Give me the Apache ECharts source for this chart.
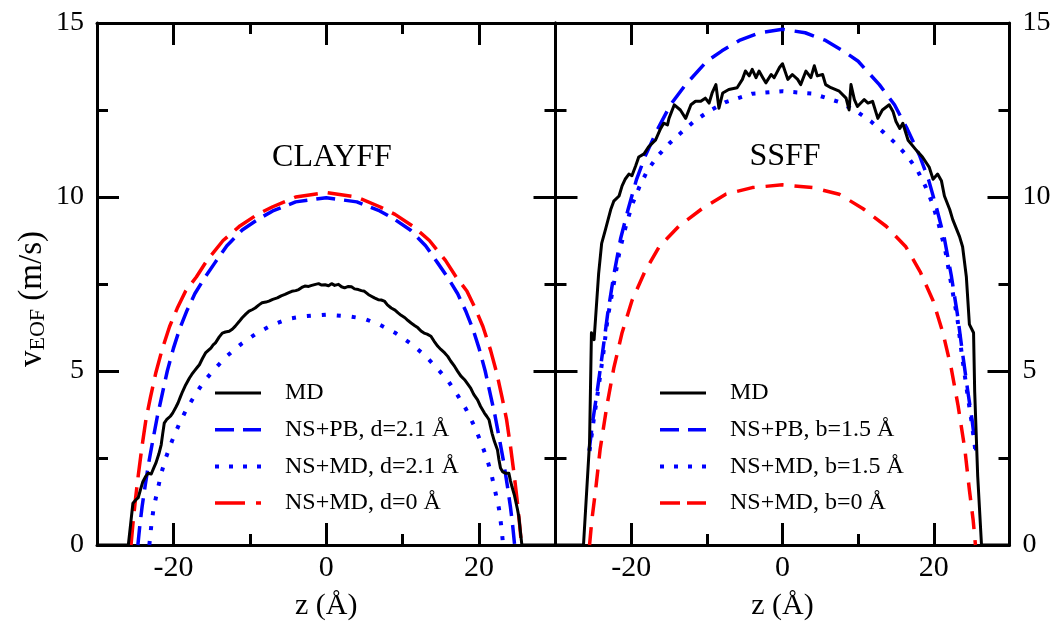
<!DOCTYPE html>
<html>
<head>
<meta charset="utf-8">
<script src="https://cdn.jsdelivr.net/npm/echarts@6/dist/echarts.min.js"></script>
</head>
<body style="margin:0">
<div id="chart" style="width:1054px;height:623px"></div>
<script>
// ---------- data (z in Å, v in m/s) ----------
var xMajorTicks = [-20, 0, 20];
var xMinorTicks = [-10, 10];

// CLAYFF panel
var clayffMD = [[-30,0],[-25.9,0],[-25.6,0.6],[-25.3,1.2],[-24.9,1.3],[-24.6,1.36],[-24.3,1.6],[-24.0,1.82],[-23.6,1.98],[-23.3,2.06],[-22.9,2.04],[-22.6,2.2],[-22.3,2.35],[-21.9,2.62],[-21.6,2.88],[-21.4,3.2],[-21.2,3.5],[-20.9,3.6],[-20.7,3.65],[-20.4,3.7],[-20.1,3.79],[-19.7,3.95],[-19.4,4.08],[-19.1,4.25],[-18.8,4.41],[-18.4,4.6],[-17.9,4.8],[-17.6,4.9],[-17.3,4.99],[-16.9,5.1],[-16.6,5.18],[-16.2,5.36],[-15.8,5.52],[-15.4,5.6],[-15.1,5.66],[-14.8,5.75],[-14.5,5.81],[-14.0,5.98],[-13.6,6.09],[-13.2,6.12],[-12.7,6.14],[-12.3,6.2],[-11.9,6.29],[-11.4,6.42],[-11.0,6.53],[-10.5,6.64],[-10.1,6.72],[-9.7,6.76],[-9.3,6.81],[-8.8,6.9],[-8.4,6.96],[-7.9,6.98],[-7.5,7.01],[-7.0,7.06],[-6.4,7.1],[-5.9,7.16],[-5.4,7.2],[-4.9,7.25],[-4.5,7.29],[-4.0,7.31],[-3.6,7.34],[-3.2,7.4],[-2.8,7.44],[-2.3,7.43],[-1.9,7.46],[-1.4,7.49],[-1.0,7.51],[-0.6,7.47],[-0.15,7.48],[0.3,7.45],[0.7,7.51],[1.1,7.46],[1.6,7.49],[2.0,7.42],[2.4,7.39],[2.9,7.43],[3.3,7.42],[3.7,7.36],[4.2,7.34],[4.6,7.31],[5.0,7.29],[5.5,7.2],[5.9,7.15],[6.3,7.1],[6.8,7.05],[7.2,7.04],[7.6,7.01],[8.0,6.9],[8.5,6.81],[9.0,6.75],[9.4,6.67],[9.8,6.6],[10.3,6.53],[10.7,6.45],[11.1,6.38],[11.6,6.3],[12.0,6.24],[12.4,6.15],[12.8,6.09],[13.2,6.06],[13.7,6.0],[14.1,5.86],[14.6,5.71],[15.0,5.62],[15.5,5.52],[15.9,5.42],[16.3,5.28],[16.8,5.13],[17.2,4.99],[17.6,4.86],[18.1,4.75],[18.5,4.63],[18.9,4.51],[19.3,4.33],[19.8,4.17],[20.2,3.98],[20.7,3.79],[21.0,3.7],[21.3,3.6],[21.5,3.4],[21.7,3.21],[22.0,2.98],[22.4,2.74],[22.6,2.45],[22.8,2.21],[23.1,2.1],[23.5,2.06],[23.9,2.06],[24.1,1.85],[24.3,1.68],[24.6,1.45],[24.8,1.25],[25.0,1.05],[25.2,0.82],[25.4,0.4],[25.6,0],[30,0]];
var clayffPB = [[-24.65,0],[-24.4,0.55],[-24.1,1.1],[-23.7,1.7],[-23.2,2.4],[-22.7,3.0],[-22.1,3.7],[-21.5,4.3],[-20.8,5.0],[-20.0,5.65],[-19.2,6.2],[-18.3,6.7],[-17.2,7.22],[-16.0,7.65],[-14.6,8.1],[-13.0,8.6],[-11.0,9.05],[-9.0,9.35],[-7.0,9.6],[-4.0,9.86],[0,9.98],[4.0,9.86],[7.0,9.6],[9.0,9.35],[11.0,9.05],[13.0,8.6],[14.6,8.1],[16.0,7.65],[17.2,7.22],[18.3,6.7],[19.2,6.2],[20.0,5.65],[20.8,5.0],[21.5,4.3],[22.1,3.7],[22.7,3.0],[23.2,2.4],[23.7,1.7],[24.1,1.1],[24.4,0.55],[24.65,0]];
var clayffNSMD = [[-23.15,0],[-22.9,0.55],[-22.6,1.05],[-22.1,1.55],[-21.6,2.05],[-21.0,2.5],[-20.2,2.98],[-19.3,3.45],[-18.3,3.9],[-17.2,4.3],[-16.0,4.7],[-14.5,5.08],[-12.9,5.45],[-11.0,5.8],[-9.0,6.1],[-7.0,6.33],[-5.0,6.5],[-3.0,6.57],[0,6.62],[3.0,6.57],[5.0,6.5],[7.0,6.33],[9.0,6.1],[11.0,5.8],[12.9,5.45],[14.5,5.08],[16.0,4.7],[17.2,4.3],[18.3,3.9],[19.3,3.45],[20.2,2.98],[21.0,2.5],[21.6,2.05],[22.1,1.55],[22.6,1.05],[22.9,0.55],[23.15,0]];
var clayffNSMD0 = [[-25.55,0],[-25.3,0.6],[-25.0,1.25],[-24.6,2.0],[-24.1,2.85],[-23.6,3.6],[-23.0,4.25],[-22.3,4.95],[-21.5,5.6],[-20.5,6.28],[-19.5,6.8],[-18.4,7.3],[-17.0,7.7],[-15.6,8.18],[-13.5,8.75],[-11.4,9.15],[-9.0,9.5],[-7.0,9.72],[-4.0,10.0],[0,10.13],[4.0,10.0],[7.0,9.72],[9.0,9.5],[11.4,9.15],[13.5,8.75],[15.6,8.18],[17.0,7.7],[18.4,7.3],[19.5,6.8],[20.5,6.28],[21.5,5.6],[22.3,4.95],[23.0,4.25],[23.6,3.6],[24.1,2.85],[24.6,2.0],[25.0,1.25],[25.3,0.6],[25.55,0]];

// SSFF panel
var ssffMD = [[-30,0],[-26.3,0],[-25.5,2.94],[-25.25,6.1],[-24.9,5.9],[-24.7,6.53],[-24.3,7.8],[-23.9,8.67],[-23.4,9.06],[-22.7,9.64],[-22.3,9.88],[-21.6,10.03],[-21.2,10.32],[-20.8,10.51],[-20.3,10.66],[-19.9,10.61],[-19.4,10.9],[-19.0,11.15],[-18.3,11.24],[-17.7,11.44],[-16.8,11.63],[-16.1,11.97],[-15.7,12.12],[-15.2,12.07],[-15.0,12.26],[-14.3,12.65],[-13.5,12.5],[-12.8,12.26],[-12.1,12.65],[-11.5,12.75],[-10.8,12.75],[-10.2,12.84],[-9.7,12.7],[-9.3,12.99],[-8.8,13.23],[-8.4,12.55],[-7.9,12.99],[-7.1,13.09],[-6.0,13.14],[-5.3,13.38],[-4.9,13.62],[-4.4,13.48],[-4.0,13.67],[-3.5,13.43],[-3.1,13.62],[-2.6,13.43],[-2.2,13.28],[-1.5,13.52],[-1.1,13.43],[-0.4,13.72],[0,13.83],[0.7,13.38],[1.3,13.52],[2.0,13.38],[2.4,13.23],[3.1,13.62],[3.75,13.43],[4.2,13.77],[4.6,13.48],[5.3,13.52],[5.7,13.23],[6.4,13.14],[7.5,13.04],[8.4,12.84],[8.8,12.5],[9.05,13.23],[9.5,12.8],[9.9,12.6],[10.8,12.8],[11.3,12.7],[11.9,12.75],[12.6,12.26],[13.2,12.5],[14.1,12.65],[14.6,12.46],[15.0,12.17],[15.5,11.97],[15.9,12.12],[16.6,11.63],[17.7,11.34],[18.5,11.15],[19.4,10.85],[19.9,10.51],[20.5,10.66],[21.0,10.47],[21.4,10.03],[22.1,9.64],[22.5,9.35],[23.4,8.86],[23.8,8.57],[24.3,7.7],[24.7,6.34],[25.25,6.1],[25.4,4.4],[25.8,1.97],[26.3,0],[30,0]];
var ssffPB = [[-25.55,2.72],[-25.05,3.6],[-24.5,4.4],[-23.8,5.5],[-23.1,6.65],[-22.3,7.75],[-21.4,8.8],[-20.4,9.65],[-19.3,10.5],[-18.1,11.2],[-16.5,11.95],[-14.8,12.65],[-12.8,13.23],[-10.0,13.9],[-8.0,14.2],[-5.7,14.5],[-3.0,14.72],[0,14.82],[3.0,14.72],[5.7,14.5],[8.0,14.2],[10.0,13.9],[12.8,13.23],[14.8,12.65],[16.5,11.95],[18.1,11.2],[19.3,10.5],[20.4,9.65],[21.4,8.8],[22.3,7.75],[23.1,6.65],[23.8,5.5],[24.5,4.4],[25.05,3.6],[25.55,2.72]];
var ssffNSMD = [[-25.5,2.7],[-25.0,3.52],[-24.4,4.4],[-23.7,5.47],[-23.1,6.53],[-22.3,7.5],[-21.5,8.48],[-20.6,9.25],[-19.8,9.82],[-18.9,10.3],[-17.8,10.78],[-16.4,11.2],[-14.9,11.55],[-13.4,11.85],[-11.7,12.17],[-9.7,12.47],[-7.6,12.72],[-4.0,12.97],[0,13.04],[4.0,12.97],[7.6,12.72],[9.7,12.47],[11.7,12.17],[13.4,11.85],[14.9,11.55],[16.4,11.2],[17.8,10.78],[18.9,10.3],[19.8,9.82],[20.6,9.25],[21.5,8.48],[22.3,7.5],[23.1,6.53],[23.7,5.47],[24.4,4.4],[25.0,3.52],[25.5,2.7]];
var ssffNSMD0 = [[-25.5,0],[-25.2,0.71],[-24.7,1.58],[-24.1,2.75],[-23.2,4.01],[-22.3,5.08],[-21.2,6.1],[-19.9,7.02],[-18.2,7.85],[-16.3,8.57],[-13.7,9.16],[-10.6,9.67],[-7.5,10.08],[-4.0,10.27],[0,10.35],[4.0,10.27],[7.5,10.08],[10.6,9.67],[13.7,9.16],[16.3,8.57],[18.2,7.85],[19.9,7.02],[21.2,6.1],[22.3,5.08],[23.2,4.01],[24.1,2.75],[24.7,1.58],[25.2,0.71],[25.5,0]];

// ---------- chart ----------
var FONT = "'Liberation Serif','Times New Roman',serif";
var BLACK = '#000', BLUE = '#0000ff', RED = '#ff0000';

// legend sample shapes (46 px wide line samples)
var ICON_SOLID = 'path://M0,0H46V3H0Z';
var ICON_DASH = 'path://M0,0H19V3.5H0Z M28,0H46V3.5H28Z';
var ICON_DOT = 'path://M0,0H4V4H0Z M14,0H18V4H14Z M28,0H32V4H28Z M42,0H46V4H42Z';
var ICON_DASHDOT = 'path://M0,0H30V3.5H0Z M41,0H46V3.5H41Z';
var ICON_DASH2 = 'path://M0,0H20V3.5H0Z M27,0H46V3.5H27Z';

function xAxes(g) {
  var base = {type: 'value', gridIndex: g, min: -30, max: 30, splitLine: {show: false}};
  return [
    Object.assign({}, base, {
      position: 'bottom',
      axisLine: {show: true, onZero: false, lineStyle: {color: BLACK, width: 3}},
      axisTick: {show: true, inside: true, length: 22, lineStyle: {color: BLACK, width: 3}, customValues: xMajorTicks},
      axisLabel: {show: true, customValues: xMajorTicks, fontFamily: FONT, fontSize: 30, color: BLACK, margin: 8},
      name: 'z (Å)', nameLocation: 'middle', nameGap: 46,
      nameTextStyle: {fontFamily: FONT, fontSize: 30, color: BLACK}
    }),
    Object.assign({}, base, {
      position: 'bottom',
      axisLine: {show: false, onZero: false},
      axisTick: {show: true, inside: true, length: 11, lineStyle: {color: BLACK, width: 3}, customValues: xMinorTicks},
      axisLabel: {show: false}
    }),
    Object.assign({}, base, {
      position: 'top',
      axisLine: {show: true, onZero: false, lineStyle: {color: BLACK, width: 3}},
      axisTick: {show: true, inside: true, length: 22, lineStyle: {color: BLACK, width: 3}, customValues: xMajorTicks},
      axisLabel: {show: false}
    }),
    Object.assign({}, base, {
      position: 'top',
      axisLine: {show: false, onZero: false},
      axisTick: {show: true, inside: true, length: 11, lineStyle: {color: BLACK, width: 3}, customValues: xMinorTicks},
      axisLabel: {show: false}
    })
  ];
}

function yAxis(g, pos, showLabel, withName) {
  var a = {
    type: 'value', gridIndex: g, position: pos, min: 0, max: 15, interval: 5,
    axisLine: {show: true, onZero: false, lineStyle: {color: BLACK, width: 3}},
    axisTick: {show: true, inside: true, length: 22, lineStyle: {color: BLACK, width: 3}},
    minorTick: {show: true, splitNumber: 2, length: 11, lineStyle: {color: BLACK, width: 3}},
    splitLine: {show: false}, minorSplitLine: {show: false},
    axisLabel: {show: showLabel, fontFamily: FONT, fontSize: 28, color: BLACK, margin: 13}
  };
  if (withName) {
    a.name = '{v|v}{s|EOF}{n| (m/s)}';
    a.nameLocation = 'middle';
    a.nameGap = 48;
    a.nameTextStyle = {
      color: BLACK, padding: [0, 30, 0, 0],
      rich: {
        v: {fontFamily: FONT, fontSize: 33, color: BLACK},
        s: {fontFamily: FONT, fontSize: 22, color: BLACK, verticalAlign: 'bottom', lineHeight: 10},
        n: {fontFamily: FONT, fontSize: 33, color: BLACK}
      }
    };
  }
  return a;
}

function lineSeries(name, data, xi, yi, color, width, type) {
  return {
    type: 'line', name: name, data: data, xAxisIndex: xi, yAxisIndex: yi,
    showSymbol: false, symbol: 'none', smooth: false,
    lineStyle: {color: color, width: width, type: type, cap: 'butt', join: 'round'},
    itemStyle: {color: color}
  };
}

var legendText = {fontFamily: FONT, fontSize: 24, color: BLACK, lineHeight: 24, padding: [0, 0, 0, 19]};

var option = {
  animation: false,
  grid: [
    {left: 97, right: 498.5, top: 23, bottom: 78, outerBoundsMode: 'none'},
    {left: 555.5, right: 44.5, top: 23, bottom: 78, outerBoundsMode: 'none'}
  ],
  xAxis: xAxes(0).concat(xAxes(1)),
  yAxis: [
    yAxis(0, 'left', true, true),
    yAxis(0, 'right', false, false),
    yAxis(1, 'left', false, false),
    yAxis(1, 'right', true, false)
  ],
  legend: [
    {
      orient: 'vertical', left: 215, top: 381, padding: 0, itemWidth: 46, itemHeight: 24, itemGap: 12.7,
      selectedMode: false, textStyle: legendText,
      data: [
        {name: 'MD', icon: ICON_SOLID},
        {name: 'NS+PB, d=2.1 Å', icon: ICON_DASH},
        {name: 'NS+MD, d=2.1 Å', icon: ICON_DOT},
        {name: 'NS+MD, d=0 Å', icon: ICON_DASHDOT}
      ]
    },
    {
      orient: 'vertical', left: 660, top: 381, padding: 0, itemWidth: 46, itemHeight: 24, itemGap: 12.7,
      selectedMode: false, textStyle: legendText,
      data: [
        {name: 'MD', icon: ICON_SOLID},
        {name: 'NS+PB, b=1.5 Å', icon: ICON_DASH},
        {name: 'NS+MD, b=1.5 Å', icon: ICON_DOT},
        {name: 'NS+MD, b=0 Å', icon: ICON_DASH2}
      ]
    }
  ],
  graphic: [
    {type: 'text', x: 332, y: 158, style: {text: 'CLAYFF', font: '32px ' + FONT, fill: BLACK, textAlign: 'center', textVerticalAlign: 'middle'}},
    {type: 'text', x: 785, y: 157, style: {text: 'SSFF', font: '32px ' + FONT, fill: BLACK, textAlign: 'center', textVerticalAlign: 'middle'}}
  ],
  series: [
    lineSeries('NS+MD, d=0 Å', clayffNSMD0, 0, 0, RED, 3.5, [24, 10]),
    lineSeries('NS+PB, d=2.1 Å', clayffPB, 0, 0, BLUE, 3.5, [19, 9]),
    lineSeries('NS+MD, d=2.1 Å', clayffNSMD, 0, 0, BLUE, 4, [4, 11]),
    lineSeries('MD', clayffMD, 0, 0, BLACK, 3, 'solid'),
    lineSeries('NS+MD, b=0 Å', ssffNSMD0, 4, 2, RED, 3.5, [18, 11]),
    lineSeries('NS+PB, b=1.5 Å', ssffPB, 4, 2, BLUE, 3.5, [20, 10]),
    lineSeries('NS+MD, b=1.5 Å', ssffNSMD, 4, 2, BLUE, 4, [4, 10]),
    lineSeries('MD', ssffMD, 4, 2, BLACK, 3, 'solid')
  ]
};

var chart = echarts.init(document.getElementById('chart'));
chart.setOption(option);
</script>
</body>
</html>
